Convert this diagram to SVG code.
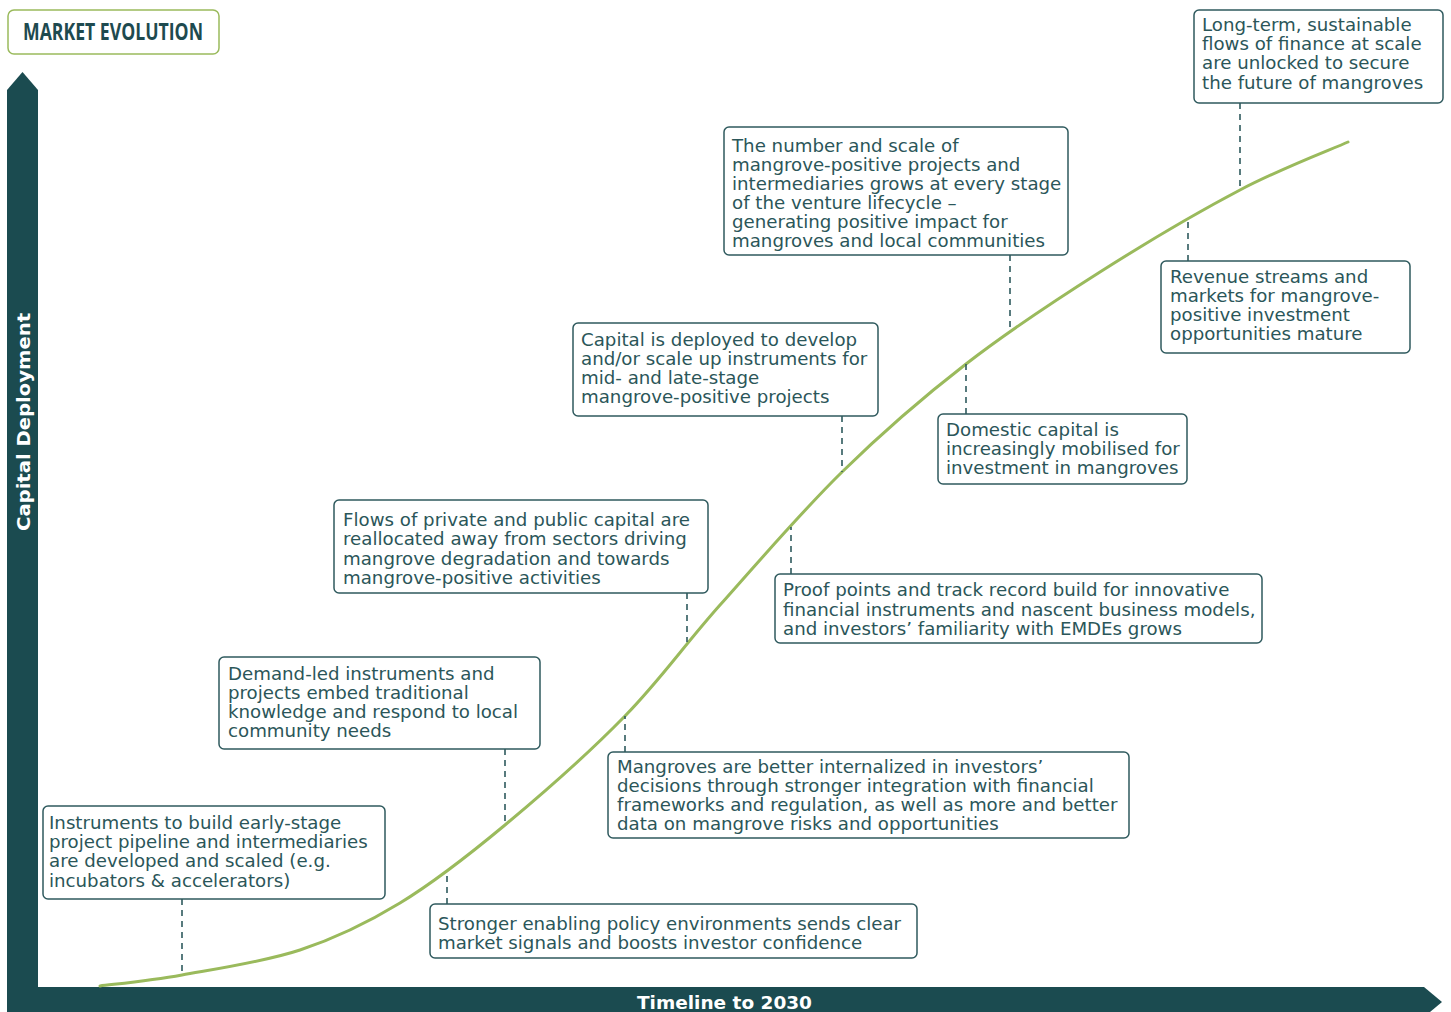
<svg xmlns="http://www.w3.org/2000/svg" width="1451" height="1012" viewBox="0 0 1451 1012">
<style>
.box{fill:#ffffff;stroke:#2f5a5e;stroke-width:1.5}
.t{font-family:"DejaVu Sans","Liberation Sans",sans-serif;font-size:18.2px;fill:#2b5659}
.dash{stroke:#2f5a5e;stroke-width:1.6;stroke-dasharray:6,5;fill:none}
.axis{fill:#1b4b50}
.axl{font-family:"DejaVu Sans","Liberation Sans",sans-serif;font-weight:bold;font-size:18px;fill:#ffffff}
</style>
<rect width="1451" height="1012" fill="#ffffff"/>
<g id="title">
<rect x="8" y="10" width="211" height="44" rx="6" fill="#ffffff" stroke="#9aba5c" stroke-width="1.5"/>
<text x="23" y="40" font-family="'Open Sans','Liberation Sans',sans-serif" font-weight="bold" font-size="24" fill="#1e4a4f" textLength="180" lengthAdjust="spacingAndGlyphs">MARKET EVOLUTION</text>
</g>
<g id="axes">
<polygon class="axis" points="7,1012 7,90 22.5,72 38,90 38,1012"/>
<polygon class="axis" points="7,987 1424,987 1442,1002 1424,1017 7,1017"/>
<text class="axl" transform="translate(30,422) rotate(-90)" text-anchor="middle" textLength="218" lengthAdjust="spacingAndGlyphs">Capital Deployment</text>
<text class="axl" x="724.5" y="1009" text-anchor="middle" textLength="175" lengthAdjust="spacingAndGlyphs">Timeline to 2030</text>
</g>
<g id="curve">
<path d="M100,986 C113.7,984.2 148.7,981 182,975 C215.3,969 263.7,962 300,950 C336.3,938 365.8,923.8 400,903 C434.2,882.2 467.5,856.2 505,825 C542.5,793.8 589.2,752.7 625,716 C660.8,679.3 683.8,645.7 720,605 C756.2,564.3 801,512.2 842,472 C883,431.8 923,397.3 966,364 C1009,330.7 1054.3,301 1100,272 C1145.7,243 1198.7,211.7 1240,190 C1281.3,168.3 1330,150 1348,142" fill="none" stroke="#9aba5c" stroke-width="3" stroke-linecap="round"/>
</g>
<g id="connectors">
<line class="dash" x1="182" y1="899" x2="182" y2="975"/>
<line class="dash" x1="447" y1="904" x2="447" y2="872"/>
<line class="dash" x1="505" y1="749" x2="505" y2="825"/>
<line class="dash" x1="625" y1="752" x2="625" y2="716"/>
<line class="dash" x1="687" y1="593" x2="687" y2="642"/>
<line class="dash" x1="791" y1="574" x2="791" y2="527"/>
<line class="dash" x1="842" y1="416" x2="842" y2="472"/>
<line class="dash" x1="966" y1="414" x2="966" y2="364"/>
<line class="dash" x1="1010" y1="255" x2="1010" y2="330"/>
<line class="dash" x1="1188" y1="261" x2="1188" y2="217"/>
<line class="dash" x1="1240" y1="103" x2="1240" y2="190"/>
</g>
<g id="n1">
<rect class="box" x="43" y="806" width="342" height="93" rx="5"/>
<text class="t"><tspan x="49" y="829">Instruments to build early-stage</tspan><tspan x="49" y="848">project pipeline and intermediaries</tspan><tspan x="49" y="867">are developed and scaled (e.g.</tspan><tspan x="49" y="887">incubators &amp; accelerators)</tspan></text>
</g>
<g id="n2">
<rect class="box" x="430" y="904" width="487" height="54" rx="5"/>
<text class="t"><tspan x="438" y="930">Stronger enabling policy environments sends clear</tspan><tspan x="438" y="949">market signals and boosts investor confidence</tspan></text>
</g>
<g id="n3">
<rect class="box" x="219" y="657" width="321" height="92" rx="5"/>
<text class="t"><tspan x="228" y="680">Demand-led instruments and</tspan><tspan x="228" y="699">projects embed traditional</tspan><tspan x="228" y="718">knowledge and respond to local</tspan><tspan x="228" y="737">community needs</tspan></text>
</g>
<g id="n4">
<rect class="box" x="608" y="752" width="521" height="86" rx="5"/>
<text class="t"><tspan x="617" y="773">Mangroves are better internalized in investors’</tspan><tspan x="617" y="792">decisions through stronger integration with financial</tspan><tspan x="617" y="811">frameworks and regulation, as well as more and better</tspan><tspan x="617" y="830">data on mangrove risks and opportunities</tspan></text>
</g>
<g id="n5">
<rect class="box" x="334" y="500" width="374" height="93" rx="5"/>
<text class="t"><tspan x="343" y="526">Flows of private and public capital are</tspan><tspan x="343" y="545">reallocated away from sectors driving</tspan><tspan x="343" y="565">mangrove degradation and towards</tspan><tspan x="343" y="584">mangrove-positive activities</tspan></text>
</g>
<g id="n6">
<rect class="box" x="775" y="574" width="487" height="69" rx="5"/>
<text class="t"><tspan x="783" y="596">Proof points and track record build for innovative</tspan><tspan x="783" y="616">financial instruments and nascent business models,</tspan><tspan x="783" y="635">and investors’ familiarity with EMDEs grows</tspan></text>
</g>
<g id="n7">
<rect class="box" x="573" y="323" width="305" height="93" rx="5"/>
<text class="t"><tspan x="581" y="346">Capital is deployed to develop</tspan><tspan x="581" y="365">and/or scale up instruments for</tspan><tspan x="581" y="384">mid- and late-stage</tspan><tspan x="581" y="403">mangrove-positive projects</tspan></text>
</g>
<g id="n8">
<rect class="box" x="938" y="414" width="249" height="70" rx="5"/>
<text class="t"><tspan x="946" y="436">Domestic capital is</tspan><tspan x="946" y="455">increasingly mobilised for</tspan><tspan x="946" y="474">investment in mangroves</tspan></text>
</g>
<g id="n9">
<rect class="box" x="724" y="127" width="344" height="128" rx="5"/>
<text class="t"><tspan x="732" y="152">The number and scale of</tspan><tspan x="732" y="171">mangrove-positive projects and</tspan><tspan x="732" y="190">intermediaries grows at every stage</tspan><tspan x="732" y="209">of the venture lifecycle –</tspan><tspan x="732" y="228">generating positive impact for</tspan><tspan x="732" y="247">mangroves and local communities</tspan></text>
</g>
<g id="n10">
<rect class="box" x="1161" y="261" width="249" height="92" rx="5"/>
<text class="t"><tspan x="1170" y="283">Revenue streams and</tspan><tspan x="1170" y="302">markets for mangrove-</tspan><tspan x="1170" y="321">positive investment</tspan><tspan x="1170" y="340">opportunities mature</tspan></text>
</g>
<g id="n11">
<rect class="box" x="1194" y="10" width="249" height="93" rx="5"/>
<text class="t"><tspan x="1202" y="31">Long-term, sustainable</tspan><tspan x="1202" y="50">flows of finance at scale</tspan><tspan x="1202" y="69">are unlocked to secure</tspan><tspan x="1202" y="89">the future of mangroves</tspan></text>
</g>
</svg>
